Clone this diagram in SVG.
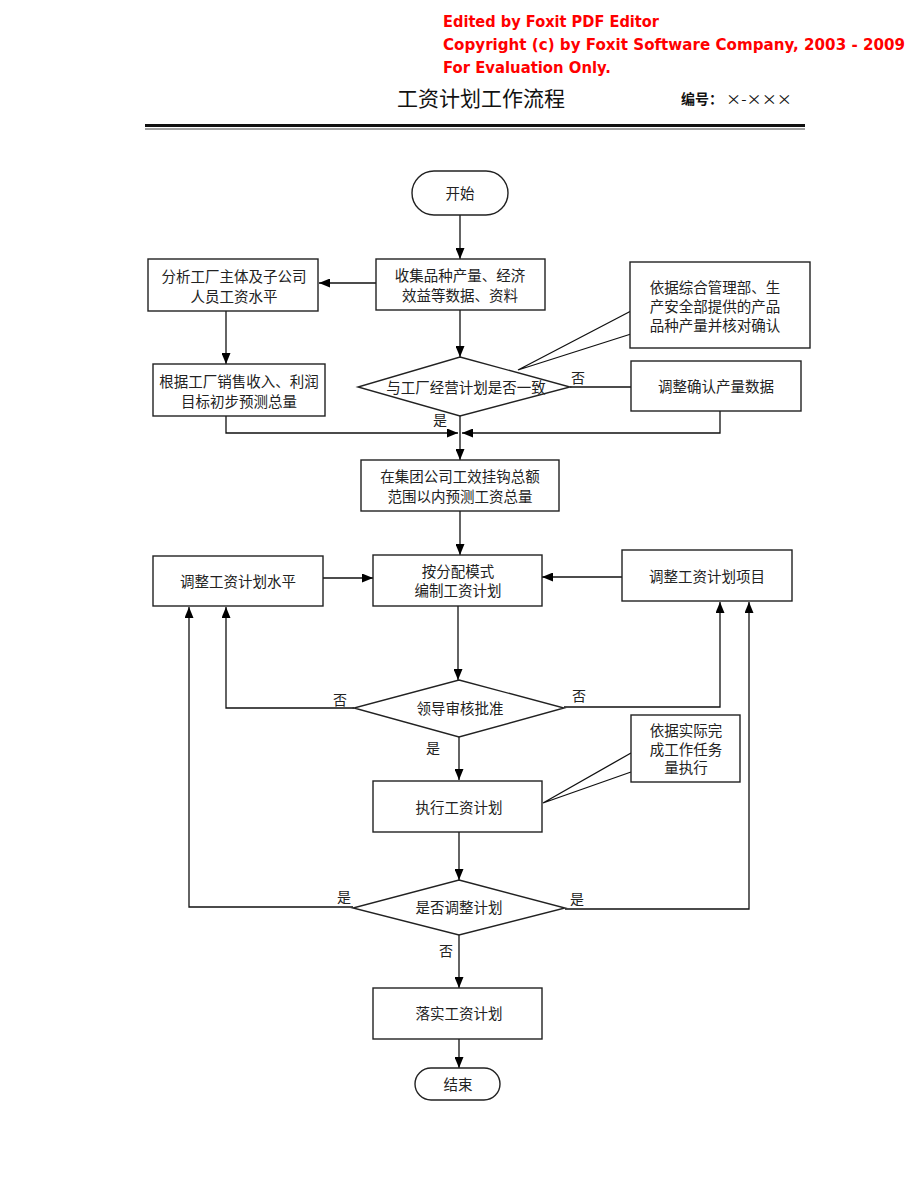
<svg xmlns="http://www.w3.org/2000/svg" width="920" height="1191" viewBox="0 0 920 1191">
<defs>
<marker id="ah" markerWidth="11" markerHeight="9" refX="11" refY="4.5" orient="auto" markerUnits="userSpaceOnUse">
<path d="M0,0 L11,4.5 L0,9 Z" fill="#000"/>
</marker>
<style>
.box{fill:#fff;stroke:#222;stroke-width:1.4}
.ln{fill:none;stroke:#111;stroke-width:1.3}
.ar{fill:none;stroke:#111;stroke-width:1.3;marker-end:url(#ah)}
.t{font-family:"Liberation Serif","Noto Sans CJK SC",serif;font-size:14.5px;fill:#222;text-anchor:middle}
.lb{font-family:"Liberation Serif","Noto Sans CJK SC",serif;font-size:14px;fill:#222;text-anchor:middle}
.red{font-family:"DejaVu Sans",Verdana,sans-serif;font-weight:bold;font-size:15px;fill:#f00}
</style>
</defs>
<rect width="920" height="1191" fill="#fff"/>
<g id="header">
<text class="red" x="443" y="27" textLength="216" lengthAdjust="spacingAndGlyphs">Edited by Foxit PDF Editor</text>
<text class="red" x="443" y="50" textLength="462" lengthAdjust="spacingAndGlyphs">Copyright (c) by Foxit Software Company, 2003 - 2009</text>
<text class="red" x="443" y="73" textLength="168" lengthAdjust="spacingAndGlyphs">For Evaluation Only.</text>
<text x="481" y="106" font-family="'Noto Sans CJK SC',sans-serif" font-size="21" text-anchor="middle" fill="#111" textLength="168" lengthAdjust="spacingAndGlyphs">工资计划工作流程</text>
<text x="681" y="104" font-family="'Noto Sans CJK SC',sans-serif" font-size="14" font-weight="bold" fill="#111">编号：</text>
<text x="726" y="104" font-family="'Noto Sans CJK SC',sans-serif" font-size="14" fill="#111" textLength="66" lengthAdjust="spacingAndGlyphs">×-×××</text>
<rect x="145" y="124" width="660" height="3" fill="#111"/>
<rect x="145" y="128.5" width="660" height="1" fill="#444"/>
</g>
<g id="connectors">
<line class="ar" x1="460" y1="215" x2="460" y2="259"/>
<line class="ar" x1="376" y1="283" x2="319" y2="283"/>
<line class="ar" x1="226" y1="311" x2="226" y2="364"/>
<line class="ar" x1="460" y1="310" x2="460" y2="357"/>
<line class="ln" x1="570" y1="387" x2="631" y2="387"/>
<polyline class="ln" points="631,311 518,370 631,334"/>
<polyline class="ar" points="226,416 226,433 458,433"/>
<polyline class="ar" points="720,411 720,433 462,433"/>
<line class="ar" x1="460" y1="416" x2="460" y2="460"/>
<line class="ar" x1="460" y1="511" x2="460" y2="555"/>
<line class="ar" x1="323" y1="578" x2="373" y2="578"/>
<line class="ar" x1="622" y1="577" x2="542" y2="577"/>
<line class="ar" x1="458" y1="606" x2="458" y2="680"/>
<polyline class="ar" points="354,708 226,708 226,607"/>
<polyline class="ar" points="564,707 720,707 720,602"/>
<line class="ar" x1="459" y1="737" x2="459" y2="780"/>
<polyline class="ln" points="631,753 543,803 631,772"/>
<line class="ar" x1="459" y1="832" x2="459" y2="880"/>
<polyline class="ar" points="353,907 189,907 189,607"/>
<polyline class="ar" points="565,909 749,909 749,602"/>
<line class="ar" x1="459" y1="935" x2="459" y2="988"/>
<line class="ar" x1="459" y1="1039" x2="459" y2="1068"/>
<text class="lb" x="578" y="383">否</text>
<text class="lb" x="440" y="425">是</text>
<text class="lb" x="340" y="705">否</text>
<text class="lb" x="579" y="701">否</text>
<text class="lb" x="433" y="753">是</text>
<text class="lb" x="344" y="902">是</text>
<text class="lb" x="577" y="904">是</text>
<text class="lb" x="446" y="956">否</text>
</g>
<g id="start">
<rect class="box" x="412" y="171" width="96" height="44" rx="22"/>
<text class="t" x="460" y="199">开始</text>
</g>
<g id="collect">
<rect class="box" x="376" y="259" width="169" height="51"/>
<text class="t" x="460" y="281">收集品种产量、经济</text>
<text class="t" x="460" y="301">效益等数据、资料</text>
</g>
<g id="analyze">
<rect class="box" x="148" y="259" width="170" height="52"/>
<text class="t" x="234" y="282">分析工厂主体及子公司</text>
<text class="t" x="234" y="302">人员工资水平</text>
</g>
<g id="forecast">
<rect class="box" x="153" y="364" width="172" height="52"/>
<text class="t" x="239" y="387">根据工厂销售收入、利润</text>
<text class="t" x="239" y="407">目标初步预测总量</text>
</g>
<g id="note1">
<rect class="box" x="630" y="262" width="180" height="86"/>
<text class="t" x="715" y="293">依据综合管理部、生</text>
<text class="t" x="715" y="312">产安全部提供的产品</text>
<text class="t" x="715" y="331">品种产量并核对确认</text>
</g>
<g id="decision1">
<polygon class="box" points="460,357 570,387 460,416 358,387"/>
<text class="t" x="466" y="393">与工厂经营计划是否一致</text>
</g>
<g id="adjustOutput">
<rect class="box" x="631" y="361" width="170" height="50"/>
<text class="t" x="716" y="392">调整确认产量数据</text>
</g>
<g id="groupForecast">
<rect class="box" x="361" y="460" width="198" height="51"/>
<text class="t" x="460" y="482">在集团公司工效挂钩总额</text>
<text class="t" x="460" y="502">范围以内预测工资总量</text>
</g>
<g id="compile">
<rect class="box" x="373" y="555" width="169" height="51"/>
<text class="t" x="458" y="577">按分配模式</text>
<text class="t" x="458" y="596">编制工资计划</text>
</g>
<g id="adjustLevel">
<rect class="box" x="153" y="556" width="170" height="50"/>
<text class="t" x="238" y="587">调整工资计划水平</text>
</g>
<g id="adjustItems">
<rect class="box" x="622" y="550" width="170" height="51"/>
<text class="t" x="707" y="582">调整工资计划项目</text>
</g>
<g id="approve">
<polygon class="box" points="459,680 564,708 459,737 354,708"/>
<text class="t" x="460" y="714">领导审核批准</text>
</g>
<g id="note2">
<rect class="box" x="631" y="715" width="109" height="67"/>
<text class="t" x="686" y="736">依据实际完</text>
<text class="t" x="686" y="755">成工作任务</text>
<text class="t" x="686" y="773">量执行</text>
</g>
<g id="execute">
<rect class="box" x="373" y="781" width="169" height="51"/>
<text class="t" x="459" y="813">执行工资计划</text>
</g>
<g id="decision2">
<polygon class="box" points="459,880 565,908 459,935 353,908"/>
<text class="t" x="459" y="913">是否调整计划</text>
</g>
<g id="implement">
<rect class="box" x="373" y="988" width="169" height="51"/>
<text class="t" x="459" y="1019">落实工资计划</text>
</g>
<g id="end">
<rect class="box" x="415" y="1068" width="85" height="32" rx="16"/>
<text class="t" x="458" y="1090">结束</text>
</g>
</svg>
